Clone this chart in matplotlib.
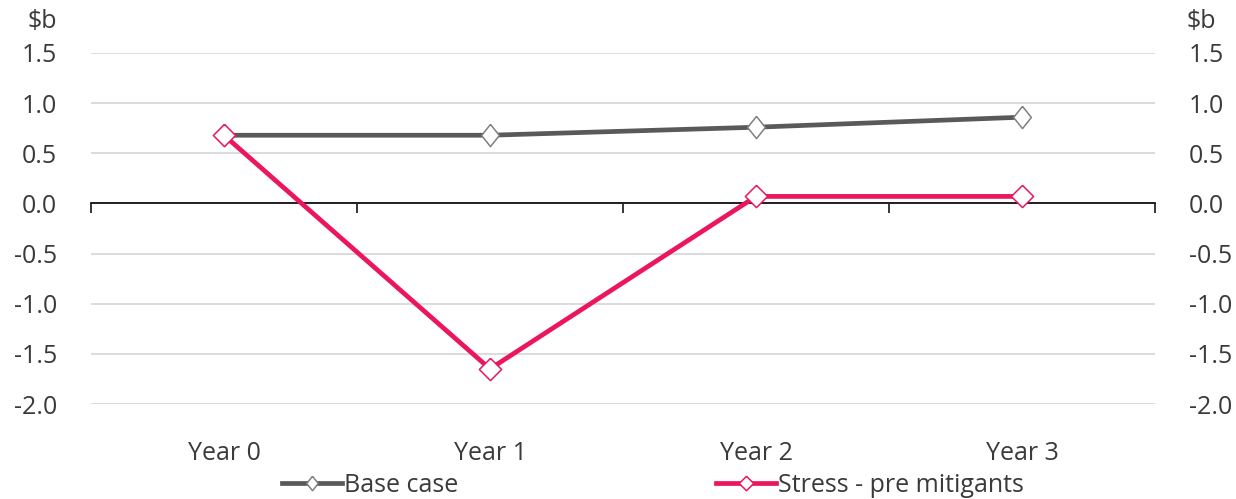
import numpy as np
import matplotlib.pyplot as plt
from matplotlib.transforms import blended_transform_factory

# DATA
years = ["Year 0", "Year 1", "Year 2", "Year 3"]
base_case = [0.68, 0.68, 0.76, 0.86]
stress_pre = [0.68, -1.65, 0.07, 0.07]
y_ticks = [-2.0, -1.5, -1.0, -0.5, 0.0, 0.5, 1.0, 1.5]

plt.rcParams["font.family"] = ["Open Sans", "DejaVu Sans"]
text_col = "#3a3a3a"
fs = 18

# diamond shapes (Excel style)
narrow_diamond = [(0, 1), (0.8, 0), (0, -1), (-0.8, 0), (0, 1)]
diamond = [(0, 1), (1, 0), (0, -1), (-1, 0), (0, 1)]

fig = plt.figure(figsize=(12.36, 4.99), dpi=100)
ax = fig.add_axes([91 / 1236, 1 - 404 / 499, (1155 - 91) / 1236, (404 - 53) / 499])

x = np.arange(len(years))

ax.plot(x, base_case, color="#595959", lw=3.4, marker=narrow_diamond, ms=16,
        mfc="white", mec="#808080", mew=1.1, label="Base case", zorder=3)
ax.plot(x, stress_pre, color="#ec1560", lw=3.4, marker=diamond, ms=16,
        mfc="white", mec="#ec1560", mew=1.1, label="Stress - pre mitigants", zorder=3)

ax.set_xlim(-0.5, len(years) - 0.5)
ax.set_ylim(y_ticks[0], y_ticks[-1])
ax.set_yticks(y_ticks)
ax.set_yticklabels([f"{v:.1f}" for v in y_ticks])
ax.grid(axis="y", color="#d9d9d9", lw=1.3)
ax.set_axisbelow(True)

for s in ["left", "right", "top"]:
    ax.spines[s].set_visible(False)
ax.spines["bottom"].set_position(("data", 0))
ax.spines["bottom"].set_color("black")
ax.spines["bottom"].set_linewidth(1.2)
ax.spines["bottom"].set_zorder(2)

# category boundary ticks on the zero line
ax.set_xticks(np.arange(len(years) + 1) - 0.5)
ax.set_xticklabels([])
ax.tick_params(axis="x", direction="out", length=7, width=1.1, color="black")
ax.tick_params(axis="y", left=False, right=False, labelleft=True, labelright=True,
               labelsize=fs, labelcolor=text_col, pad=21)

# category labels below the plot area
trans = blended_transform_factory(ax.transData, ax.transAxes)
for xi, lab in zip(x, years):
    ax.text(xi, -0.14, lab, transform=trans, ha="center", va="center",
            fontsize=fs, color=text_col)

fig.text(57 / 1236, 1 - 22 / 499, "$b", ha="right", va="center", fontsize=fs, color=text_col)
fig.text(1187 / 1236, 1 - 22 / 499, "$b", ha="left", va="center", fontsize=fs, color=text_col)

leg = fig.legend(loc="center", bbox_to_anchor=(653 / 1236, 1 - 485 / 499), ncol=2,
                 frameon=False, fontsize=fs, handlelength=2.4, handletextpad=0.08,
                 columnspacing=10.3, borderpad=0, markerscale=0.65, labelcolor=text_col)

fig.savefig("out.png", dpi=100)
